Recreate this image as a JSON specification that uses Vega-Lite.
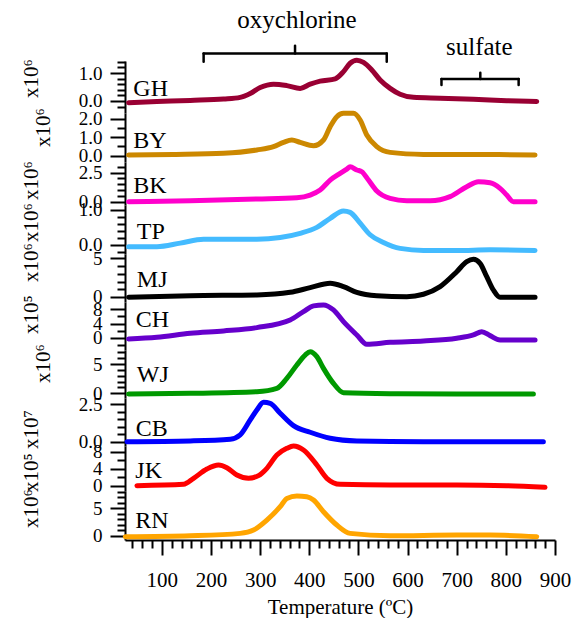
{
"$schema": "https://vega.github.io/schema/vega-lite/v6.json",
"padding": {"left": 20, "top": 8, "right": 5, "bottom": 5},
"bounds": "flush",
"spacing": 0,
"config": {
 "view": {"stroke": null},
 "font": "Liberation Serif",
 "axis": {"labelFont": "Liberation Serif", "labelFontSize": 19, "labelColor": "#000", "domainColor": "#000", "tickColor": "#000", "domainWidth": 2, "tickWidth": 2, "grid": false, "titleFont": "Liberation Serif", "titleFontSize": 21, "titleFontWeight": "normal", "titleColor": "#000", "labelFlush": false, "labelOverlap": false, "labelBound": false, "labelPadding": 8},
 "text": {"font": "Liberation Serif", "color": "#000"}
},
"datasets": {"d": [
{"s":"GH","t":32.3,"v":-0.06},{"s":"GH","t":90,"v":-0.02},{"s":"GH","t":157.8,"v":0.02},{"s":"GH","t":225.5,"v":0.07},{"s":"GH","t":259.4,"v":0.13},{"s":"GH","t":279.8,"v":0.27},{"s":"GH","t":300.1,"v":0.48},{"s":"GH","t":327.2,"v":0.6},{"s":"GH","t":354.3,"v":0.55},{"s":"GH","t":381.5,"v":0.45},{"s":"GH","t":401.8,"v":0.6},{"s":"GH","t":422.1,"v":0.71},{"s":"GH","t":452.6,"v":0.79},{"s":"GH","t":469.6,"v":1.05},{"s":"GH","t":483.1,"v":1.35},{"s":"GH","t":496.7,"v":1.46},{"s":"GH","t":510.3,"v":1.38},{"s":"GH","t":527.2,"v":1.11},{"s":"GH","t":544.2,"v":0.75},{"s":"GH","t":564.5,"v":0.45},{"s":"GH","t":584.8,"v":0.24},{"s":"GH","t":611.9,"v":0.13},{"s":"GH","t":666.2,"v":0.1},{"s":"GH","t":734,"v":0.06},{"s":"GH","t":801.8,"v":0.01},{"s":"GH","t":862.8,"v":-0.02},
{"s":"BY","t":32.3,"v":0.03},{"s":"BY","t":123.9,"v":0.06},{"s":"BY","t":225.5,"v":0.12},{"s":"BY","t":293.3,"v":0.3},{"s":"BY","t":327.2,"v":0.48},{"s":"BY","t":347.5,"v":0.71},{"s":"BY","t":364.5,"v":0.84},{"s":"BY","t":381.5,"v":0.71},{"s":"BY","t":408.6,"v":0.53},{"s":"BY","t":428.9,"v":0.84},{"s":"BY","t":442.5,"v":1.56},{"s":"BY","t":456,"v":2.1},{"s":"BY","t":469.6,"v":2.28},{"s":"BY","t":489.9,"v":2.28},{"s":"BY","t":503.5,"v":1.92},{"s":"BY","t":517,"v":1.11},{"s":"BY","t":537.4,"v":0.48},{"s":"BY","t":564.5,"v":0.17},{"s":"BY","t":632.3,"v":0.06},{"s":"BY","t":700.1,"v":0.05},{"s":"BY","t":767.9,"v":0.05},{"s":"BY","t":859.4,"v":0.03},
{"s":"BK","t":32.3,"v":-0.01},{"s":"BK","t":157.8,"v":0.07},{"s":"BK","t":293.3,"v":0.22},{"s":"BK","t":374.7,"v":0.33},{"s":"BK","t":401.8,"v":0.56},{"s":"BK","t":422.1,"v":0.99},{"s":"BK","t":442.5,"v":1.85},{"s":"BK","t":462.8,"v":2.43},{"s":"BK","t":476.4,"v":2.8},{"s":"BK","t":483.1,"v":3.0},{"s":"BK","t":496.7,"v":2.72},{"s":"BK","t":506.9,"v":2.57},{"s":"BK","t":520.4,"v":1.85},{"s":"BK","t":537.4,"v":0.9},{"s":"BK","t":564.5,"v":0.27},{"s":"BK","t":598.4,"v":0.07},{"s":"BK","t":645.8,"v":0.07},{"s":"BK","t":686.5,"v":0.42},{"s":"BK","t":720.4,"v":1.28},{"s":"BK","t":744.2,"v":1.71},{"s":"BK","t":767.9,"v":1.62},{"s":"BK","t":788.2,"v":1.14},{"s":"BK","t":801.8,"v":0.56},{"s":"BK","t":815.3,"v":-0.01},{"s":"BK","t":859.4,"v":-0.01},
{"s":"TP","t":32.3,"v":-0.05},{"s":"TP","t":90,"v":-0.05},{"s":"TP","t":137.4,"v":0.05},{"s":"TP","t":184.9,"v":0.16},{"s":"TP","t":225.5,"v":0.16},{"s":"TP","t":293.3,"v":0.16},{"s":"TP","t":340.8,"v":0.21},{"s":"TP","t":381.5,"v":0.33},{"s":"TP","t":415.4,"v":0.5},{"s":"TP","t":442.5,"v":0.76},{"s":"TP","t":469.6,"v":0.97},{"s":"TP","t":483.1,"v":0.93},{"s":"TP","t":503.5,"v":0.62},{"s":"TP","t":523.8,"v":0.29},{"s":"TP","t":550.9,"v":0.07},{"s":"TP","t":584.8,"v":-0.1},{"s":"TP","t":632.3,"v":-0.16},{"s":"TP","t":700.1,"v":-0.16},{"s":"TP","t":767.9,"v":-0.14},{"s":"TP","t":859.4,"v":-0.16},
{"s":"MJ","t":32.3,"v":-0.04},{"s":"MJ","t":157.8,"v":0.17},{"s":"MJ","t":293.3,"v":0.26},{"s":"MJ","t":361.1,"v":0.6},{"s":"MJ","t":401.8,"v":1.21},{"s":"MJ","t":442.5,"v":1.77},{"s":"MJ","t":469.6,"v":1.34},{"s":"MJ","t":496.7,"v":0.6},{"s":"MJ","t":537.4,"v":0.17},{"s":"MJ","t":598.4,"v":0.04},{"s":"MJ","t":632.3,"v":0.35},{"s":"MJ","t":666.2,"v":1.34},{"s":"MJ","t":700.1,"v":3.27},{"s":"MJ","t":720.4,"v":4.57},{"s":"MJ","t":734,"v":4.87},{"s":"MJ","t":747.5,"v":4.35},{"s":"MJ","t":761.1,"v":2.63},{"s":"MJ","t":774.6,"v":0.9},{"s":"MJ","t":788.2,"v":-0.04},{"s":"MJ","t":859.4,"v":-0.04},
{"s":"CH","t":32.3,"v":-0.28},{"s":"CH","t":90,"v":0.19},{"s":"CH","t":157.8,"v":1.3},{"s":"CH","t":225.5,"v":1.95},{"s":"CH","t":293.3,"v":2.88},{"s":"CH","t":361.1,"v":5.01},{"s":"CH","t":388.2,"v":7.34},{"s":"CH","t":408.6,"v":8.91},{"s":"CH","t":428.9,"v":9.19},{"s":"CH","t":449.2,"v":7.8},{"s":"CH","t":469.6,"v":4.55},{"s":"CH","t":496.7,"v":0.84},{"s":"CH","t":517,"v":-1.76},{"s":"CH","t":564.5,"v":-1.21},{"s":"CH","t":632.3,"v":-0.84},{"s":"CH","t":700.1,"v":-0.09},{"s":"CH","t":734,"v":0.84},{"s":"CH","t":751,"v":1.76},{"s":"CH","t":767.9,"v":0.65},{"s":"CH","t":788.2,"v":-0.56},{"s":"CH","t":859.4,"v":-0.56},
{"s":"WJ","t":32.3,"v":-0.12},{"s":"WJ","t":157.8,"v":-0.01},{"s":"WJ","t":293.3,"v":0.27},{"s":"WJ","t":334,"v":0.84},{"s":"WJ","t":354.3,"v":2.55},{"s":"WJ","t":374.7,"v":4.83},{"s":"WJ","t":391.6,"v":6.53},{"s":"WJ","t":401.8,"v":7.1},{"s":"WJ","t":415.4,"v":6.25},{"s":"WJ","t":428.9,"v":4.26},{"s":"WJ","t":449.2,"v":1.69},{"s":"WJ","t":469.6,"v":0.1},{"s":"WJ","t":564.5,"v":-0.07},{"s":"WJ","t":700.1,"v":-0.12},{"s":"WJ","t":856,"v":-0.12},
{"s":"CB","t":29,"v":0},{"s":"CB","t":157.8,"v":0.05},{"s":"CB","t":239.1,"v":0.16},{"s":"CB","t":259.4,"v":0.45},{"s":"CB","t":279.8,"v":1.45},{"s":"CB","t":293.3,"v":2.12},{"s":"CB","t":306.9,"v":2.63},{"s":"CB","t":320.4,"v":2.56},{"s":"CB","t":340.8,"v":1.9},{"s":"CB","t":367.9,"v":1.07},{"s":"CB","t":401.8,"v":0.63},{"s":"CB","t":442.5,"v":0.23},{"s":"CB","t":496.7,"v":0.05},{"s":"CB","t":632.3,"v":0},{"s":"CB","t":876.3,"v":0},
{"s":"JK","t":49.3,"v":0.08},{"s":"JK","t":144.2,"v":0.39},{"s":"JK","t":164.5,"v":1.79},{"s":"JK","t":191.6,"v":3.96},{"s":"JK","t":215.4,"v":4.9},{"s":"JK","t":232.3,"v":4.27},{"s":"JK","t":252.7,"v":2.56},{"s":"JK","t":276.4,"v":1.79},{"s":"JK","t":296.7,"v":2.41},{"s":"JK","t":313.7,"v":4.12},{"s":"JK","t":334,"v":7.23},{"s":"JK","t":354.3,"v":8.78},{"s":"JK","t":367.9,"v":9.32},{"s":"JK","t":388.2,"v":8.39},{"s":"JK","t":415.4,"v":4.9},{"s":"JK","t":435.7,"v":1.79},{"s":"JK","t":462.8,"v":0.39},{"s":"JK","t":564.5,"v":0.23},{"s":"JK","t":700.1,"v":0.23},{"s":"JK","t":801.8,"v":0.08},{"s":"JK","t":879.7,"v":-0.31},
{"s":"RN","t":25.6,"v":-0.18},{"s":"RN","t":157.8,"v":0},{"s":"RN","t":259.4,"v":0.43},{"s":"RN","t":286.5,"v":1.03},{"s":"RN","t":313.7,"v":2.85},{"s":"RN","t":340.8,"v":5.29},{"s":"RN","t":354.3,"v":6.81},{"s":"RN","t":374.7,"v":7.23},{"s":"RN","t":395,"v":7.11},{"s":"RN","t":408.6,"v":6.5},{"s":"RN","t":428.9,"v":4.38},{"s":"RN","t":456,"v":1.95},{"s":"RN","t":483.1,"v":0.43},{"s":"RN","t":564.5,"v":0},{"s":"RN","t":700.1,"v":0.12},{"s":"RN","t":767.9,"v":0.12},{"s":"RN","t":862.8,"v":-0.18}
]},
"vconcat": [
{"width": 430, "height": 52, "resolve": {"axis": {"y": "independent"}}, "layer": [
 {"data": {"name": "d"}, "transform": [{"filter": "datum.s === 'GH'"}], "mark": {"type": "line", "color": "#990033", "strokeWidth": 5, "interpolate": "monotone", "strokeCap": "round", "strokeJoin": "round"},
  "encoding": {"x": {"field": "t", "type": "quantitative", "scale": {"domain": [25, 900], "nice": false, "zero": false}, "axis": null},
   "y": {"field": "v", "type": "quantitative", "scale": {"domain": [-0.43, 1.43], "nice": false, "zero": false}, "axis": {"orient": "left", "values": [0, 1], "format": ".1f", "tickSize": 15, "labelFont": "Liberation Serif", "title": "x10⁶", "titleFont": "Liberation Serif", "titleX": -88, "titleY": 17, "titleAngle": -90, "titleAlign": "center", "titleBaseline": "alphabetic"}}}},
 {"data": {"values": [{}]}, "mark": {"type": "text", "text": ""}, "encoding": {"x": {"datum": 100, "type": "quantitative", "scale": {"domain": [25, 900], "nice": false, "zero": false}, "axis": null}, "y": {"datum": 0, "type": "quantitative", "scale": {"domain": [-0.43, 1.43], "nice": false, "zero": false}, "axis": {"orient": "left", "values": [-0.2, 0.2, 0.4, 0.6, 0.8, 1.2, 1.4], "labels": false, "domain": false, "tickSize": 8, "title": null}}}},
 {"data": {"values": [{}]}, "mark": {"type": "text", "text": "GH", "font": "Liberation Serif", "align": "left", "baseline": "alphabetic", "fontSize": 24}, "encoding": {"x": {"datum": 42, "type": "quantitative", "scale": {"domain": [25, 900], "nice": false, "zero": false}, "axis": null}, "y": {"datum": 0.19, "type": "quantitative", "scale": {"domain": [-0.43, 1.43], "nice": false, "zero": false}, "axis": null}}},
 {"data": {"values": [{}]}, "mark": {"type": "text", "text": "oxychlorine", "font": "Liberation Serif", "align": "center", "baseline": "middle", "fontSize": 25}, "encoding": {"x": {"datum": 375, "type": "quantitative", "scale": {"domain": [25, 900], "nice": false, "zero": false}, "axis": null}, "y": {"datum": 2.89, "type": "quantitative", "scale": {"domain": [-0.43, 1.43], "nice": false, "zero": false}, "axis": null}}},
 {"data": {"values": [{}]}, "mark": {"type": "text", "text": "sulfate", "font": "Liberation Serif", "align": "center", "baseline": "middle", "fontSize": 25}, "encoding": {"x": {"datum": 746, "type": "quantitative", "scale": {"domain": [25, 900], "nice": false, "zero": false}, "axis": null}, "y": {"datum": 1.93, "type": "quantitative", "scale": {"domain": [-0.43, 1.43], "nice": false, "zero": false}, "axis": null}}},
 {"data": {"values": [{}]}, "mark": {"type": "rule", "color": "#000", "strokeWidth": 2.5, "strokeCap": "round"}, "encoding": {"x": {"datum": 185, "type": "quantitative", "scale": {"domain": [25, 900], "nice": false, "zero": false}, "axis": null}, "x2": {"datum": 557.6}, "y": {"datum": 1.7, "type": "quantitative", "scale": {"domain": [-0.43, 1.43], "nice": false, "zero": false}, "axis": null}}},
 {"data": {"values": [{}]}, "mark": {"type": "rule", "color": "#000", "strokeWidth": 2.5, "strokeCap": "round"}, "encoding": {"x": {"datum": 185, "type": "quantitative", "scale": {"domain": [25, 900], "nice": false, "zero": false}, "axis": null}, "y": {"datum": 1.7, "type": "quantitative", "scale": {"domain": [-0.43, 1.43], "nice": false, "zero": false}, "axis": null}, "y2": {"datum": 1.4}}},
 {"data": {"values": [{}]}, "mark": {"type": "rule", "color": "#000", "strokeWidth": 2.5, "strokeCap": "round"}, "encoding": {"x": {"datum": 557.6, "type": "quantitative", "scale": {"domain": [25, 900], "nice": false, "zero": false}, "axis": null}, "y": {"datum": 1.7, "type": "quantitative", "scale": {"domain": [-0.43, 1.43], "nice": false, "zero": false}, "axis": null}, "y2": {"datum": 1.4}}},
 {"data": {"values": [{}]}, "mark": {"type": "rule", "color": "#000", "strokeWidth": 2.5, "strokeCap": "round"}, "encoding": {"x": {"datum": 371, "type": "quantitative", "scale": {"domain": [25, 900], "nice": false, "zero": false}, "axis": null}, "y": {"datum": 1.7, "type": "quantitative", "scale": {"domain": [-0.43, 1.43], "nice": false, "zero": false}, "axis": null}, "y2": {"datum": 1.975}}},
 {"data": {"values": [{}]}, "mark": {"type": "rule", "color": "#000", "strokeWidth": 2.5, "strokeCap": "round"}, "encoding": {"x": {"datum": 669, "type": "quantitative", "scale": {"domain": [25, 900], "nice": false, "zero": false}, "axis": null}, "x2": {"datum": 826}, "y": {"datum": 0.786, "type": "quantitative", "scale": {"domain": [-0.43, 1.43], "nice": false, "zero": false}, "axis": null}}},
 {"data": {"values": [{}]}, "mark": {"type": "rule", "color": "#000", "strokeWidth": 2.5, "strokeCap": "round"}, "encoding": {"x": {"datum": 669, "type": "quantitative", "scale": {"domain": [25, 900], "nice": false, "zero": false}, "axis": null}, "y": {"datum": 0.786, "type": "quantitative", "scale": {"domain": [-0.43, 1.43], "nice": false, "zero": false}, "axis": null}, "y2": {"datum": 0.571}}},
 {"data": {"values": [{}]}, "mark": {"type": "rule", "color": "#000", "strokeWidth": 2.5, "strokeCap": "round"}, "encoding": {"x": {"datum": 826, "type": "quantitative", "scale": {"domain": [25, 900], "nice": false, "zero": false}, "axis": null}, "y": {"datum": 0.786, "type": "quantitative", "scale": {"domain": [-0.43, 1.43], "nice": false, "zero": false}, "axis": null}, "y2": {"datum": 0.571}}},
 {"data": {"values": [{}]}, "mark": {"type": "rule", "color": "#000", "strokeWidth": 2.5, "strokeCap": "round"}, "encoding": {"x": {"datum": 748, "type": "quantitative", "scale": {"domain": [25, 900], "nice": false, "zero": false}, "axis": null}, "y": {"datum": 0.786, "type": "quantitative", "scale": {"domain": [-0.43, 1.43], "nice": false, "zero": false}, "axis": null}, "y2": {"datum": 1.01}}}
]},
{"width": 430, "height": 49, "resolve": {"axis": {"y": "independent"}}, "layer": [
 {"data": {"name": "d"}, "transform": [{"filter": "datum.s === 'BY'"}], "mark": {"type": "line", "color": "#CC8800", "strokeWidth": 5, "interpolate": "monotone", "strokeCap": "round", "strokeJoin": "round"},
  "encoding": {"x": {"field": "t", "type": "quantitative", "scale": {"domain": [25, 900], "nice": false, "zero": false}, "axis": null},
   "y": {"field": "v", "type": "quantitative", "scale": {"domain": [-0.35, 2.3], "nice": false, "zero": false}, "axis": {"orient": "left", "values": [0, 1, 2], "format": ".1f", "tickSize": 15, "labelFont": "Liberation Serif", "title": "x10⁶", "titleFont": "Liberation Serif", "titleX": -76, "titleY": 14, "titleAngle": -90, "titleAlign": "center", "titleBaseline": "alphabetic"}}}},
 {"data": {"values": [{}]}, "mark": {"type": "text", "text": ""}, "encoding": {"x": {"datum": 100, "type": "quantitative", "scale": {"domain": [25, 900], "nice": false, "zero": false}, "axis": null}, "y": {"datum": 0, "type": "quantitative", "scale": {"domain": [-0.35, 2.3], "nice": false, "zero": false}, "axis": {"orient": "left", "values": [0.5, 1.5], "labels": false, "domain": false, "tickSize": 8, "title": null}}}},
 {"data": {"values": [{}]}, "mark": {"type": "text", "text": "BY", "font": "Liberation Serif", "align": "left", "baseline": "alphabetic", "fontSize": 24}, "encoding": {"x": {"datum": 42, "type": "quantitative", "scale": {"domain": [25, 900], "nice": false, "zero": false}, "axis": null}, "y": {"datum": 0.39, "type": "quantitative", "scale": {"domain": [-0.35, 2.3], "nice": false, "zero": false}, "axis": null}}}
]},
{"width": 430, "height": 43, "resolve": {"axis": {"y": "independent"}}, "layer": [
 {"data": {"name": "d"}, "transform": [{"filter": "datum.s === 'BK'"}], "mark": {"type": "line", "color": "#FF00CC", "strokeWidth": 5, "interpolate": "monotone", "strokeCap": "round", "strokeJoin": "round"},
  "encoding": {"x": {"field": "t", "type": "quantitative", "scale": {"domain": [25, 900], "nice": false, "zero": false}, "axis": null},
   "y": {"field": "v", "type": "quantitative", "scale": {"domain": [-0.3, 3.41], "nice": false, "zero": false}, "axis": {"orient": "left", "values": [0, 2.5], "format": ".1f", "tickSize": 15, "labelFont": "Liberation Serif", "title": "x10⁶", "titleFont": "Liberation Serif", "titleX": -88, "titleY": 18, "titleAngle": -90, "titleAlign": "center", "titleBaseline": "alphabetic"}}}},
 {"data": {"values": [{}]}, "mark": {"type": "text", "text": ""}, "encoding": {"x": {"datum": 100, "type": "quantitative", "scale": {"domain": [25, 900], "nice": false, "zero": false}, "axis": null}, "y": {"datum": 0, "type": "quantitative", "scale": {"domain": [-0.3, 3.41], "nice": false, "zero": false}, "axis": {"orient": "left", "values": [0.5, 1, 1.5, 2, 3], "labels": false, "domain": false, "tickSize": 8, "title": null}}}},
 {"data": {"values": [{}]}, "mark": {"type": "text", "text": "BK", "font": "Liberation Serif", "align": "left", "baseline": "alphabetic", "fontSize": 24}, "encoding": {"x": {"datum": 42, "type": "quantitative", "scale": {"domain": [25, 900], "nice": false, "zero": false}, "axis": null}, "y": {"datum": 0.76, "type": "quantitative", "scale": {"domain": [-0.3, 3.41], "nice": false, "zero": false}, "axis": null}}}
]},
{"width": 430, "height": 49, "resolve": {"axis": {"y": "independent"}}, "layer": [
 {"data": {"name": "d"}, "transform": [{"filter": "datum.s === 'TP'"}], "mark": {"type": "line", "color": "#44BBFF", "strokeWidth": 5, "interpolate": "monotone", "strokeCap": "round", "strokeJoin": "round"},
  "encoding": {"x": {"field": "t", "type": "quantitative", "scale": {"domain": [25, 900], "nice": false, "zero": false}, "axis": null},
   "y": {"field": "v", "type": "quantitative", "scale": {"domain": [-0.26, 1.14], "nice": false, "zero": false}, "axis": {"orient": "left", "values": [0, 1], "format": ".1f", "tickSize": 15, "labelFont": "Liberation Serif", "title": "x10⁶", "titleFont": "Liberation Serif", "titleX": -88, "titleY": 17, "titleAngle": -90, "titleAlign": "center", "titleBaseline": "alphabetic"}}}},
 {"data": {"values": [{}]}, "mark": {"type": "text", "text": ""}, "encoding": {"x": {"datum": 100, "type": "quantitative", "scale": {"domain": [25, 900], "nice": false, "zero": false}, "axis": null}, "y": {"datum": 0, "type": "quantitative", "scale": {"domain": [-0.26, 1.14], "nice": false, "zero": false}, "axis": {"orient": "left", "values": [-0.2, 0.2, 0.4, 0.6, 0.8], "labels": false, "domain": false, "tickSize": 8, "title": null}}}},
 {"data": {"values": [{}]}, "mark": {"type": "text", "text": "TP", "font": "Liberation Serif", "align": "left", "baseline": "alphabetic", "fontSize": 24}, "encoding": {"x": {"datum": 49, "type": "quantitative", "scale": {"domain": [25, 900], "nice": false, "zero": false}, "axis": null}, "y": {"datum": 0.17, "type": "quantitative", "scale": {"domain": [-0.26, 1.14], "nice": false, "zero": false}, "axis": null}}}
]},
{"width": 430, "height": 48, "resolve": {"axis": {"y": "independent"}}, "layer": [
 {"data": {"name": "d"}, "transform": [{"filter": "datum.s === 'MJ'"}], "mark": {"type": "line", "color": "#000000", "strokeWidth": 5, "interpolate": "monotone", "strokeCap": "round", "strokeJoin": "round"},
  "encoding": {"x": {"field": "t", "type": "quantitative", "scale": {"domain": [25, 900], "nice": false, "zero": false}, "axis": null},
   "y": {"field": "v", "type": "quantitative", "scale": {"domain": [-0.65, 5.56], "nice": false, "zero": false}, "axis": {"orient": "left", "values": [0, 5], "format": "d", "tickSize": 15, "labelFont": "Liberation Serif", "title": "x10⁶", "titleFont": "Liberation Serif", "titleX": -88, "titleY": 8, "titleAngle": -90, "titleAlign": "center", "titleBaseline": "alphabetic"}}}},
 {"data": {"values": [{}]}, "mark": {"type": "text", "text": ""}, "encoding": {"x": {"datum": 100, "type": "quantitative", "scale": {"domain": [25, 900], "nice": false, "zero": false}, "axis": null}, "y": {"datum": 0, "type": "quantitative", "scale": {"domain": [-0.65, 5.56], "nice": false, "zero": false}, "axis": {"orient": "left", "values": [1, 2, 3, 4], "labels": false, "domain": false, "tickSize": 8, "title": null}}}},
 {"data": {"values": [{}]}, "mark": {"type": "text", "text": "MJ", "font": "Liberation Serif", "align": "left", "baseline": "alphabetic", "fontSize": 24}, "encoding": {"x": {"datum": 49, "type": "quantitative", "scale": {"domain": [25, 900], "nice": false, "zero": false}, "axis": null}, "y": {"datum": 1.33, "type": "quantitative", "scale": {"domain": [-0.65, 5.56], "nice": false, "zero": false}, "axis": null}}}
]},
{"width": 430, "height": 48, "resolve": {"axis": {"y": "independent"}}, "layer": [
 {"data": {"name": "d"}, "transform": [{"filter": "datum.s === 'CH'"}], "mark": {"type": "line", "color": "#6600CC", "strokeWidth": 5, "interpolate": "monotone", "strokeCap": "round", "strokeJoin": "round"},
  "encoding": {"x": {"field": "t", "type": "quantitative", "scale": {"domain": [25, 900], "nice": false, "zero": false}, "axis": null},
   "y": {"field": "v", "type": "quantitative", "scale": {"domain": [-3.34, 10], "nice": false, "zero": false}, "axis": {"orient": "left", "values": [0, 4, 8], "format": "d", "tickSize": 15, "labelFont": "Liberation Serif", "title": "x10⁵", "titleFont": "Liberation Serif", "titleX": -88, "titleY": 12, "titleAngle": -90, "titleAlign": "center", "titleBaseline": "alphabetic"}}}},
 {"data": {"values": [{}]}, "mark": {"type": "text", "text": ""}, "encoding": {"x": {"datum": 100, "type": "quantitative", "scale": {"domain": [25, 900], "nice": false, "zero": false}, "axis": null}, "y": {"datum": 0, "type": "quantitative", "scale": {"domain": [-3.34, 10], "nice": false, "zero": false}, "axis": {"orient": "left", "values": [-2, 2, 6], "labels": false, "domain": false, "tickSize": 8, "title": null}}}},
 {"data": {"values": [{}]}, "mark": {"type": "text", "text": "CH", "font": "Liberation Serif", "align": "left", "baseline": "alphabetic", "fontSize": 24}, "encoding": {"x": {"datum": 47, "type": "quantitative", "scale": {"domain": [25, 900], "nice": false, "zero": false}, "axis": null}, "y": {"datum": 3.15, "type": "quantitative", "scale": {"domain": [-3.34, 10], "nice": false, "zero": false}, "axis": null}}}
]},
{"width": 430, "height": 48, "resolve": {"axis": {"y": "independent"}}, "layer": [
 {"data": {"name": "d"}, "transform": [{"filter": "datum.s === 'WJ'"}], "mark": {"type": "line", "color": "#009900", "strokeWidth": 5, "interpolate": "monotone", "strokeCap": "round", "strokeJoin": "round"},
  "encoding": {"x": {"field": "t", "type": "quantitative", "scale": {"domain": [25, 900], "nice": false, "zero": false}, "axis": null},
   "y": {"field": "v", "type": "quantitative", "scale": {"domain": [-0.8, 7.39], "nice": false, "zero": false}, "axis": {"orient": "left", "values": [0, 5], "format": "d", "tickSize": 15, "labelFont": "Liberation Serif", "title": "x10⁶", "titleFont": "Liberation Serif", "titleX": -76, "titleY": 13, "titleAngle": -90, "titleAlign": "center", "titleBaseline": "alphabetic"}}}},
 {"data": {"values": [{}]}, "mark": {"type": "text", "text": ""}, "encoding": {"x": {"datum": 100, "type": "quantitative", "scale": {"domain": [25, 900], "nice": false, "zero": false}, "axis": null}, "y": {"datum": 0, "type": "quantitative", "scale": {"domain": [-0.8, 7.39], "nice": false, "zero": false}, "axis": {"orient": "left", "values": [1, 2, 3, 4, 6, 7], "labels": false, "domain": false, "tickSize": 8, "title": null}}}},
 {"data": {"values": [{}]}, "mark": {"type": "text", "text": "WJ", "font": "Liberation Serif", "align": "left", "baseline": "alphabetic", "fontSize": 24}, "encoding": {"x": {"datum": 49, "type": "quantitative", "scale": {"domain": [25, 900], "nice": false, "zero": false}, "axis": null}, "y": {"datum": 1.98, "type": "quantitative", "scale": {"domain": [-0.8, 7.39], "nice": false, "zero": false}, "axis": null}}}
]},
{"width": 430, "height": 48, "resolve": {"axis": {"y": "independent"}}, "layer": [
 {"data": {"name": "d"}, "transform": [{"filter": "datum.s === 'CB'"}], "mark": {"type": "line", "color": "#0000FF", "strokeWidth": 5, "interpolate": "monotone", "strokeCap": "round", "strokeJoin": "round"},
  "encoding": {"x": {"field": "t", "type": "quantitative", "scale": {"domain": [25, 900], "nice": false, "zero": false}, "axis": null},
   "y": {"field": "v", "type": "quantitative", "scale": {"domain": [-0.29, 2.92], "nice": false, "zero": false}, "axis": {"orient": "left", "values": [0, 2.5], "format": ".1f", "tickSize": 15, "labelFont": "Liberation Serif", "title": "x10⁷", "titleFont": "Liberation Serif", "titleX": -88, "titleY": 31, "titleAngle": -90, "titleAlign": "center", "titleBaseline": "alphabetic"}}}},
 {"data": {"values": [{}]}, "mark": {"type": "text", "text": ""}, "encoding": {"x": {"datum": 100, "type": "quantitative", "scale": {"domain": [25, 900], "nice": false, "zero": false}, "axis": null}, "y": {"datum": 0, "type": "quantitative", "scale": {"domain": [-0.29, 2.92], "nice": false, "zero": false}, "axis": {"orient": "left", "values": [0.5, 1, 1.5, 2], "labels": false, "domain": false, "tickSize": 8, "title": null}}}},
 {"data": {"values": [{}]}, "mark": {"type": "text", "text": "CB", "font": "Liberation Serif", "align": "left", "baseline": "alphabetic", "fontSize": 24}, "encoding": {"x": {"datum": 47, "type": "quantitative", "scale": {"domain": [25, 900], "nice": false, "zero": false}, "axis": null}, "y": {"datum": 0.4, "type": "quantitative", "scale": {"domain": [-0.29, 2.92], "nice": false, "zero": false}, "axis": null}}}
]},
{"width": 430, "height": 45, "resolve": {"axis": {"y": "independent"}}, "layer": [
 {"data": {"name": "d"}, "transform": [{"filter": "datum.s === 'JK'"}], "mark": {"type": "line", "color": "#FF0000", "strokeWidth": 5, "interpolate": "monotone", "strokeCap": "round", "strokeJoin": "round"},
  "encoding": {"x": {"field": "t", "type": "quantitative", "scale": {"domain": [25, 900], "nice": false, "zero": false}, "axis": null},
   "y": {"field": "v", "type": "quantitative", "scale": {"domain": [-1.17, 9.33], "nice": false, "zero": false}, "axis": {"orient": "left", "values": [0, 4, 8], "format": "d", "tickSize": 15, "labelFont": "Liberation Serif", "title": "x10⁵", "titleFont": "Liberation Serif", "titleX": -88, "titleY": 26, "titleAngle": -90, "titleAlign": "center", "titleBaseline": "alphabetic"}}}},
 {"data": {"values": [{}]}, "mark": {"type": "text", "text": ""}, "encoding": {"x": {"datum": 100, "type": "quantitative", "scale": {"domain": [25, 900], "nice": false, "zero": false}, "axis": null}, "y": {"datum": 0, "type": "quantitative", "scale": {"domain": [-1.17, 9.33], "nice": false, "zero": false}, "axis": {"orient": "left", "values": [2, 6], "labels": false, "domain": false, "tickSize": 8, "title": null}}}},
 {"data": {"values": [{}]}, "mark": {"type": "text", "text": "JK", "font": "Liberation Serif", "align": "left", "baseline": "alphabetic", "fontSize": 24}, "encoding": {"x": {"datum": 46, "type": "quantitative", "scale": {"domain": [25, 900], "nice": false, "zero": false}, "axis": null}, "y": {"datum": 1.93, "type": "quantitative", "scale": {"domain": [-1.17, 9.33], "nice": false, "zero": false}, "axis": null}}}
]},
{"width": 430, "height": 49, "resolve": {"axis": {"y": "independent", "x": "independent"}}, "layer": [
 {"data": {"name": "d"}, "transform": [{"filter": "datum.s === 'RN'"}], "mark": {"type": "line", "color": "#FFA500", "strokeWidth": 5, "interpolate": "monotone", "strokeCap": "round", "strokeJoin": "round"},
  "encoding": {"x": {"field": "t", "type": "quantitative", "scale": {"domain": [25, 900], "nice": false, "zero": false}, "axis": {"orient": "bottom", "values": [100, 200, 300, 400, 500, 600, 700, 800, 900], "tickSize": 15, "labelFont": "Liberation Serif", "labelFontSize": 21, "labelPadding": 14, "title": "Temperature (ºC)", "titleFont": "Liberation Serif", "titleFontSize": 21, "titlePadding": 6}},
   "y": {"field": "v", "type": "quantitative", "scale": {"domain": [-0.78, 8.16], "nice": false, "zero": false}, "axis": {"orient": "left", "values": [0, 5], "format": "d", "tickSize": 15, "labelFont": "Liberation Serif", "title": "x10⁶", "titleFont": "Liberation Serif", "titleX": -88, "titleY": 17, "titleAngle": -90, "titleAlign": "center", "titleBaseline": "alphabetic"}}}},
 {"data": {"values": [{}]}, "mark": {"type": "text", "text": ""}, "encoding": {"x": {"datum": 100, "type": "quantitative", "scale": {"domain": [25, 900], "nice": false, "zero": false}, "axis": {"orient": "bottom", "values": [40, 60, 80, 120, 140, 160, 180, 220, 240, 260, 280, 320, 340, 360, 380, 420, 440, 460, 480, 520, 540, 560, 580, 620, 640, 660, 680, 720, 740, 760, 780, 820, 840, 860, 880], "labels": false, "domain": false, "tickSize": 8, "title": null}}, "y": {"datum": 0, "type": "quantitative", "scale": {"domain": [-0.78, 8.16], "nice": false, "zero": false}, "axis": {"orient": "left", "values": [1, 2, 3, 4, 6, 7, 8], "labels": false, "domain": false, "tickSize": 8, "title": null}}}},
 {"data": {"values": [{}]}, "mark": {"type": "text", "text": "RN", "font": "Liberation Serif", "align": "left", "baseline": "alphabetic", "fontSize": 24}, "encoding": {"x": {"datum": 46, "type": "quantitative", "scale": {"domain": [25, 900], "nice": false, "zero": false}, "axis": null}, "y": {"datum": 1.35, "type": "quantitative", "scale": {"domain": [-0.78, 8.16], "nice": false, "zero": false}, "axis": null}}}
]}
]
}
